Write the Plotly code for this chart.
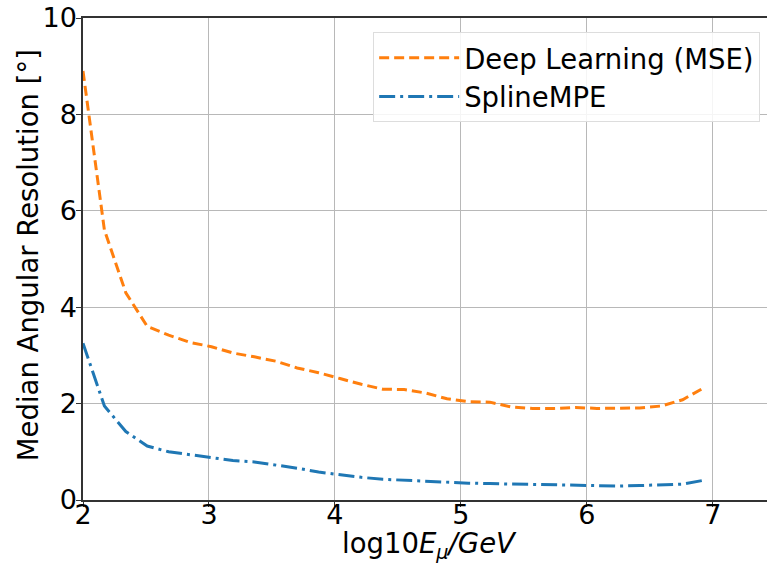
import plotly.graph_objects as go

log_energy = [2.00, 2.17, 2.34, 2.51, 2.68, 2.85, 3.02, 3.19, 3.36, 3.53,
              3.70, 3.87, 4.04, 4.21, 4.38, 4.55, 4.72, 4.89, 5.06, 5.23,
              5.40, 5.57, 5.74, 5.91, 6.08, 6.25, 6.42, 6.59, 6.76, 6.93]
deep_learning_mse = [8.9, 5.6, 4.3, 3.6, 3.42, 3.27, 3.18, 3.05, 2.97, 2.88,
                     2.74, 2.64, 2.52, 2.40, 2.30, 2.29, 2.22, 2.10, 2.04, 2.03,
                     1.93, 1.90, 1.90, 1.92, 1.90, 1.90, 1.91, 1.95, 2.08, 2.33]
spline_mpe = [3.25, 1.95, 1.42, 1.12, 1.00, 0.94, 0.87, 0.82, 0.79, 0.73,
              0.66, 0.58, 0.52, 0.47, 0.43, 0.41, 0.39, 0.36, 0.35, 0.34,
              0.33, 0.32, 0.31, 0.30, 0.30, 0.29, 0.30, 0.31, 0.33, 0.41]
x_ticks = [2, 3, 4, 5, 6, 7]
y_ticks = [0, 2, 4, 6, 8, 10]
x_title = "log10<i>E</i><sub><i>μ</i></sub><i>/GeV</i>"
y_title = "Median Angular Resolution [°]"

FONT = "DejaVu Sans"

fig = go.Figure()
fig.add_trace(go.Scatter(
    x=log_energy, y=deep_learning_mse, mode="lines", name="Deep Learning (MSE)",
    line=dict(color="#ff7f0e", width=3, dash="10px,5px"),
))
fig.add_trace(go.Scatter(
    x=log_energy, y=spline_mpe, mode="lines", name="SplineMPE",
    line=dict(color="#1f77b4", width=3, dash="16px,5px,3px,5px"),
))

axis_common = dict(
    showgrid=True, gridcolor="#b8b8b8", gridwidth=1,
    showline=True, linecolor="#333333", linewidth=1.5,
    ticks="outside", ticklen=5, tickwidth=1.2, tickcolor="#333333",
    tickfont=dict(family=FONT, size=27, color="black"),
    zeroline=False,
)

fig.update_layout(
    width=767, height=563,
    margin=dict(l=83, r=0, t=18, b=63, autoexpand=False),
    paper_bgcolor="white", plot_bgcolor="white",
    font=dict(family=FONT, color="black"),
    xaxis=dict(range=[2, 7.43], tickvals=x_ticks, mirror=True,
               ticklabelstandoff=-15, **axis_common),
    yaxis=dict(range=[0, 10], tickvals=y_ticks, ticklabelstandoff=-6,
               **axis_common),
    legend=dict(
        x=0.99, y=0.97, xanchor="right", yanchor="top",
        bgcolor="rgba(255,255,255,0.85)", bordercolor="#dddddd", borderwidth=1,
        font=dict(family=FONT, size=27.5, color="black"),
        itemwidth=80, tracegroupgap=0,
    ),
    showlegend=True,
    annotations=[
        dict(text=x_title, xref="paper", yref="paper", x=0.507, y=-0.094,
             xanchor="center", yanchor="middle", showarrow=False,
             font=dict(family=FONT, size=27.5, color="black")),
        dict(text=y_title, xref="paper", yref="paper", x=-0.0804, y=0.508,
             xanchor="center", yanchor="middle", showarrow=False, textangle=-90,
             font=dict(family=FONT, size=27.5, color="black")),
    ],
)

fig.write_html("out.html")
